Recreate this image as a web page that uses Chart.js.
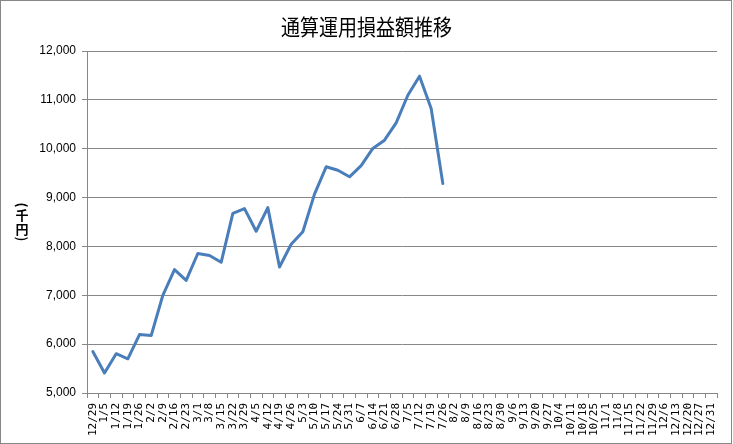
<!DOCTYPE html>
<html>
<head>
<meta charset="utf-8">
<script src="https://cdn.jsdelivr.net/npm/chart.js@4.4.1/dist/chart.umd.min.js"></script>
<style>
  html, body { margin: 0; padding: 0; background: #fff; }
  canvas { display: block; }
</style>
</head>
<body>
<canvas id="chart" width="733" height="444"></canvas>
<script>
const chartTitle = '通算運用損益額推移';
const yTitle = '(千円)';

const weekLabels = [
    '12/29', '1/5', '1/12', '1/19', '1/26', '2/2', '2/9', '2/16', '2/23', '3/1',
    '3/8', '3/15', '3/22', '3/29', '4/5', '4/12', '4/19', '4/26', '5/3', '5/10',
    '5/17', '5/24', '5/31', '6/7', '6/14', '6/21', '6/28', '7/5', '7/12', '7/19',
    '7/26', '8/2', '8/9', '8/16', '8/23', '8/30', '9/6', '9/13', '9/20', '9/27',
    '10/4', '10/11', '10/18', '10/25', '11/1', '11/8', '11/15', '11/22', '11/29', '12/6',
    '12/13', '12/20', '12/27', '12/31'
];

// 千円
const profitValues = [
    5850, 5410, 5805, 5700, 6195, 6175, 7000, 7525, 7305, 7855,
    7815, 7675, 8675, 8775, 8310, 8795, 7580, 8045, 8300, 9070,
    9630, 9560, 9425, 9655, 10005, 10175, 10530, 11095, 11485, 10825,
    9290
];

const gridGray = '#878787';

// タイトル・縦書きの軸タイトル・外枠
const frameAndTitle = {
    id: 'frameAndTitle',
    beforeDraw(chart) {
        const ctx = chart.ctx;
        ctx.save();
        ctx.fillStyle = '#fff';
        ctx.fillRect(0, 0, chart.width, chart.height);
        ctx.restore();
    },
    afterDraw(chart) {
        const ctx = chart.ctx;
        ctx.save();
        ctx.strokeStyle = gridGray;
        ctx.lineWidth = 1;
        ctx.strokeRect(0.5, 0.5, chart.width - 2, chart.height - 1);

        ctx.fillStyle = '#000';
        ctx.textAlign = 'center';
        ctx.textBaseline = 'middle';

        // chart title (centred over the whole canvas)
        ctx.save();
        ctx.font = '19px "Noto Sans CJK JP"';
        ctx.translate(chart.width / 2, 27);
        ctx.scale(1, 1.15);
        ctx.fillText(chartTitle, 0, 0);
        ctx.restore();

        ctx.font = 'bold 13px "Noto Sans CJK JP"';
        const chars = Array.from(yTitle);
        const sizes = chars.map(c => (c === '(' || c === ')') ? 6 : 14);
        const total = sizes.reduce((a, b) => a + b, 0);
        const area = chart.chartArea;
        let y = (area.top + area.bottom) / 2 - total / 2;
        chars.forEach((c, i) => {
            const cy = y + sizes[i] / 2;
            if (c === '(' || c === ')') {
                ctx.save();
                ctx.translate(22, cy);
                ctx.rotate(Math.PI / 2);
                ctx.fillText(c, 0, 0);
                ctx.restore();
            } else {
                ctx.fillText(c, 22, cy);
            }
            y += sizes[i];
        });
        ctx.restore();
    }
};

new Chart(document.getElementById('chart'), {
    type: 'line',
    data: {
        labels: weekLabels,
        datasets: [{
            label: '通算運用損益額',
            data: profitValues,
            borderColor: '#4a7ebb',
            borderWidth: 3,
            borderJoinStyle: 'round',
            borderCapStyle: 'round',
            pointRadius: 0,
            tension: 0,
            fill: false
        }]
    },
    options: {
        responsive: false,
        animation: false,
        layout: { padding: { left: 0, right: 16, top: 51, bottom: 0 } },
        plugins: {
            legend: { display: false },
            tooltip: { enabled: false },
            title: { display: false }
        },
        scales: {
            x: {
                offset: true,
                grid: {
                    offset: true,
                    drawOnChartArea: false,
                    drawTicks: true,
                    tickLength: 5,
                    color: gridGray
                },
                border: { display: true, color: gridGray },
                ticks: {
                    autoSkip: false,
                    minRotation: 90,
                    maxRotation: 90,
                    padding: 5,
                    color: '#000',
                    font: { family: '"DejaVu Sans Mono"', size: 11 }
                },
                afterFit(scale) { scale.height = 51; }
            },
            y: {
                min: 5000,
                max: 12000,
                ticks: {
                    stepSize: 1000,
                    padding: 6,
                    color: '#000',
                    font: { family: '"Liberation Sans"', size: 12 },
                    callback: v => v.toLocaleString('en-US')
                },
                grid: { color: gridGray, tickLength: 5 },
                border: { display: true, color: gridGray },
                afterFit(scale) { scale.width = 87; }
            }
        }
    },
    plugins: [frameAndTitle]
});
</script>
</body>
</html>
